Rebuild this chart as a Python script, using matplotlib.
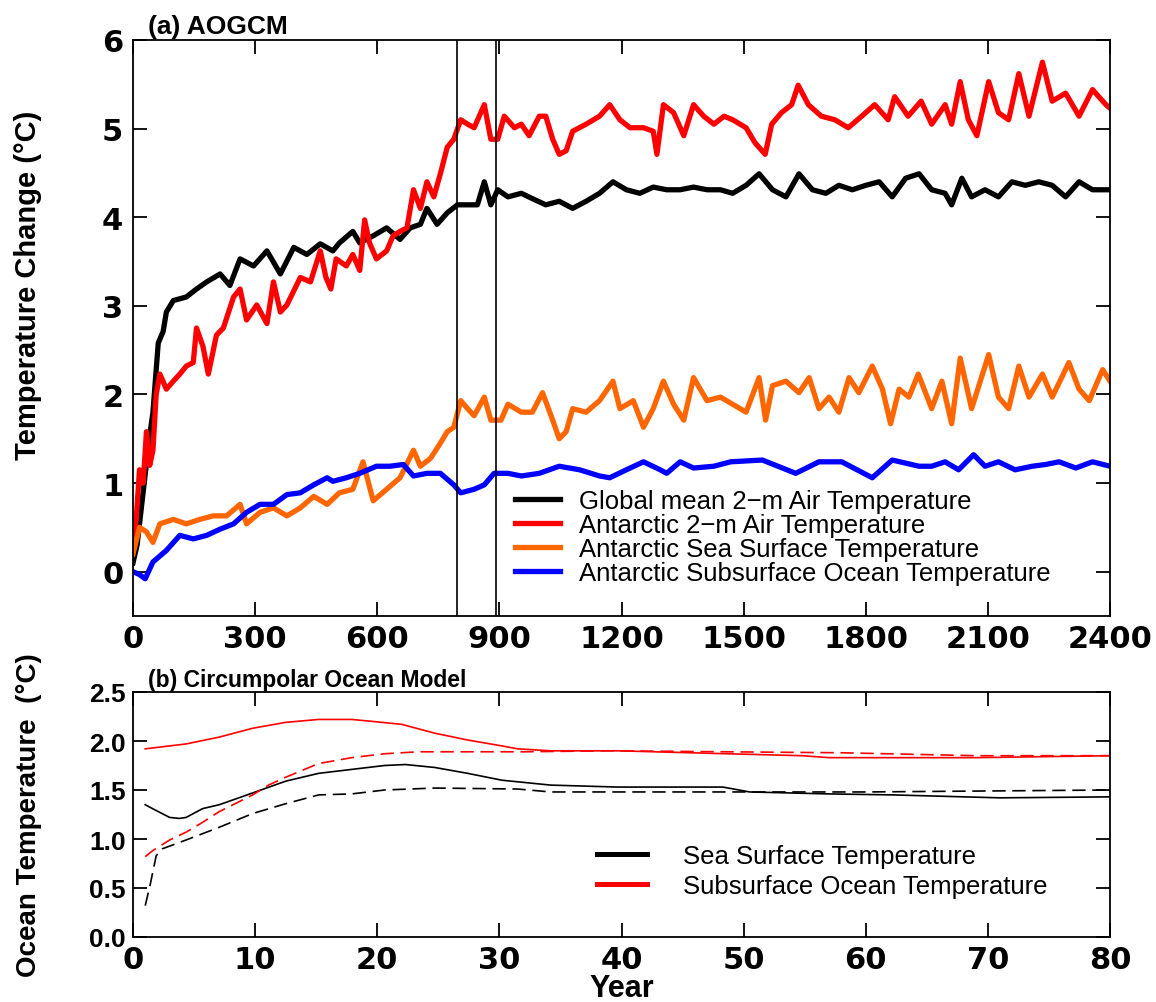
import numpy as np
import matplotlib
matplotlib.use('Agg')
import matplotlib.pyplot as plt
from matplotlib.ticker import FormatStrFormatter

plt.rcParams['font.family'] = ['Liberation Sans', 'DejaVu Sans']

# ---- (a) AOGCM, values (years, deg C) ----
yr_global = [0, 10, 25, 40, 49, 62, 74, 82, 99, 131, 156, 181, 214, 238, 263, 296, 329, 362, 395, 427,
             460, 491, 507, 540, 557, 590, 623, 656, 681, 706, 722, 747, 772, 797, 822, 846, 863, 879, 896, 921,
             954, 981, 1014, 1047, 1080, 1113, 1146, 1179, 1212, 1245, 1278, 1311, 1344, 1377, 1410, 1443, 1473,
             1506, 1538, 1571, 1604, 1636, 1669, 1702, 1734, 1767, 1800, 1833, 1865, 1898, 1931, 1962, 1995,
             2011, 2036, 2060, 2093, 2126, 2159, 2192, 2225, 2258, 2291, 2324, 2357, 2400]
t_global = [0.1, 0.3, 0.9, 1.5, 1.8, 2.58, 2.71, 2.93, 3.06, 3.1, 3.19, 3.27, 3.36, 3.23, 3.53, 3.45, 3.62, 3.36,
            3.66, 3.58, 3.7, 3.62, 3.71, 3.84, 3.71, 3.79, 3.88, 3.75, 3.88, 3.92, 4.1, 3.92, 4.05, 4.14, 4.14,
            4.14, 4.4, 4.14, 4.31, 4.23, 4.27, 4.21, 4.14, 4.18, 4.1, 4.18, 4.27, 4.4, 4.31, 4.27, 4.34, 4.31,
            4.31, 4.34, 4.31, 4.31, 4.27, 4.36, 4.49, 4.31, 4.23, 4.49, 4.31, 4.27, 4.36, 4.31, 4.36, 4.4, 4.23,
            4.44, 4.49, 4.31, 4.27, 4.14, 4.44, 4.23, 4.31, 4.23, 4.4, 4.36, 4.4, 4.36, 4.23, 4.4, 4.31, 4.31]

yr_ant_air = [0, 8, 16, 25, 33, 41, 49, 57, 66, 82, 99, 115, 131, 148, 156, 172, 185, 205, 222, 247, 263, 279,
              304, 329, 345, 362, 378, 411, 436, 460, 474, 486, 499, 524, 540, 557, 569, 581, 598, 623, 639, 656,
              673, 689, 706, 722, 739, 755, 772, 788, 805, 822, 838, 863, 879, 896, 912, 937, 954, 973, 998, 1014,
              1031, 1047, 1064, 1080, 1113, 1146, 1171, 1196, 1221, 1254, 1278, 1287, 1303, 1328, 1353, 1377,
              1402, 1427, 1452, 1473, 1506, 1528, 1553, 1569, 1593, 1618, 1634, 1659, 1691, 1724, 1757, 1790,
              1822, 1855, 1871, 1904, 1936, 1962, 1995, 2011, 2032, 2052, 2073, 2102, 2126, 2151, 2176, 2201,
              2234, 2258, 2291, 2324, 2357, 2390, 2400]
t_ant_air = [0.3, 0.6, 1.15, 1.0, 1.58, 1.2, 1.37, 2.0, 2.23, 2.06, 2.15, 2.23, 2.32, 2.36, 2.75, 2.54, 2.23, 2.67,
             2.75, 3.1, 3.19, 2.84, 3.01, 2.8, 3.27, 2.93, 3.01, 3.32, 3.27, 3.62, 3.32, 3.19, 3.53, 3.45, 3.58,
             3.4, 3.97, 3.71, 3.53, 3.62, 3.79, 3.84, 3.88, 4.31, 4.1, 4.4, 4.23, 4.49, 4.79, 4.88, 5.1, 5.05,
             5.01, 5.27, 4.88, 4.88, 5.14, 5.01, 5.05, 4.92, 5.14, 5.14, 4.88, 4.71, 4.75, 4.97, 5.05, 5.14, 5.27,
             5.1, 5.01, 5.01, 4.97, 4.71, 5.27, 5.18, 4.92, 5.27, 5.14, 5.05, 5.14, 5.1, 5.01, 4.84, 4.71, 5.05,
             5.18, 5.27, 5.49, 5.27, 5.14, 5.1, 5.01, 5.14, 5.27, 5.1, 5.36, 5.14, 5.31, 5.05, 5.27, 5.05, 5.53,
             5.1, 4.92, 5.53, 5.18, 5.1, 5.62, 5.14, 5.75, 5.31, 5.4, 5.14, 5.44, 5.27, 5.23]

yr_ant_sst = [0, 8, 16, 33, 49, 66, 99, 131, 164, 197, 230, 263, 279, 312, 345, 378, 411, 444, 477, 507, 540,
              565, 590, 623, 656, 689, 706, 731, 755, 772, 788, 805, 822, 838, 863, 879, 904, 921, 954, 981,
              1006, 1031, 1047, 1064, 1080, 1113, 1146, 1179, 1196, 1229, 1254, 1278, 1303, 1328, 1353, 1377,
              1410, 1443, 1473, 1506, 1538, 1554, 1571, 1604, 1636, 1661, 1685, 1710, 1734, 1759, 1783, 1816,
              1841, 1861, 1882, 1906, 1929, 1962, 1987, 2011, 2032, 2060, 2102, 2126, 2151, 2176, 2201, 2234,
              2258, 2299, 2324, 2349, 2382, 2400]
t_ant_sst = [0.2, 0.35, 0.5, 0.45, 0.33, 0.54, 0.59, 0.54, 0.59, 0.63, 0.63, 0.76, 0.54, 0.67, 0.72, 0.63, 0.72,
             0.85, 0.76, 0.89, 0.93, 1.24, 0.8, 0.93, 1.06, 1.37, 1.19, 1.28, 1.45, 1.58, 1.63, 1.93, 1.84, 1.76,
             1.97, 1.71, 1.71, 1.89, 1.8, 1.8, 2.02, 1.71, 1.5, 1.58, 1.84, 1.8, 1.93, 2.15, 1.84, 1.93, 1.63,
             1.84, 2.15, 1.89, 1.71, 2.19, 1.93, 1.97, 1.89, 1.8, 2.19, 1.71, 2.1, 2.15, 2.02, 2.19, 1.84, 1.97,
             1.8, 2.19, 2.02, 2.32, 2.06, 1.67, 2.06, 1.97, 2.23, 1.84, 2.15, 1.67, 2.41, 1.84, 2.45, 1.97, 1.84,
             2.32, 1.97, 2.23, 1.97, 2.36, 2.06, 1.93, 2.28, 2.15]

yr_ant_sub = [0, 15, 30, 49, 82, 115, 148, 181, 214, 247, 279, 312, 345, 378, 411, 444, 477, 491, 524, 557, 598,
              631, 664, 689, 722, 755, 788, 805, 838, 863, 887, 921, 954, 998, 1047, 1097, 1146, 1171, 1212, 1254,
              1295, 1311, 1344, 1377, 1427, 1468, 1546, 1628, 1685, 1741, 1816, 1865, 1931, 1962, 1995, 2028,
              2065, 2093, 2126, 2167, 2209, 2242, 2275, 2316, 2357, 2400]
t_ant_sub = [0.0, -0.03, -0.08, 0.11, 0.24, 0.41, 0.37, 0.41, 0.48, 0.54, 0.67, 0.76, 0.76, 0.87, 0.89, 0.98,
             1.06, 1.02, 1.06, 1.11, 1.19, 1.19, 1.21, 1.08, 1.11, 1.11, 0.98, 0.89, 0.93, 0.98, 1.11, 1.11, 1.08,
             1.11, 1.19, 1.15, 1.08, 1.06, 1.15, 1.24, 1.15, 1.11, 1.24, 1.17, 1.19, 1.24, 1.26, 1.11, 1.24, 1.24,
             1.06, 1.26, 1.19, 1.19, 1.24, 1.15, 1.32, 1.19, 1.24, 1.15, 1.19, 1.21, 1.24, 1.17, 1.24, 1.19]

marker_years = [795, 892]

# ---- (b) Circumpolar ocean model ----
yr_sst_a = [1, 1.6, 3, 3.8, 4.35, 5.7, 7.07, 9.8, 12.5, 15.2, 17.9, 20.6, 22.3, 24.7, 27.4, 30.2, 34.2, 39.7,
            48.3, 50.5, 57, 62.2, 71, 80]
sst_a = [1.35, 1.31, 1.22, 1.21, 1.22, 1.31, 1.35, 1.47, 1.59, 1.67, 1.71, 1.75, 1.76, 1.73, 1.67, 1.60, 1.55,
         1.53, 1.53, 1.48, 1.46, 1.45, 1.42, 1.43]
yr_sst_b = [1, 1.4, 1.9, 2.4, 4.35, 7.07, 9.8, 12.5, 15.2, 17.9, 20.6, 24.7, 31.5, 34.2, 40, 50, 60, 70, 80]
sst_b = [0.32, 0.53, 0.83, 0.9, 0.99, 1.12, 1.26, 1.36, 1.45, 1.46, 1.5, 1.52, 1.51, 1.48, 1.48, 1.48, 1.48,
         1.49, 1.5]
yr_sub_a = [1, 4.35, 7.07, 9.8, 12.5, 15.2, 17.9, 19.6, 22, 24.7, 27.4, 30.2, 31.5, 34.2, 39.7, 48.6, 54.8, 57,
            69, 80]
sub_a = [1.92, 1.97, 2.04, 2.13, 2.19, 2.22, 2.22, 2.2, 2.17, 2.08, 2.01, 1.95, 1.92, 1.90, 1.90, 1.87, 1.85,
         1.83, 1.83, 1.85]
yr_sub_b = [1, 1.6, 3, 4.35, 5.7, 7.07, 9.8, 11.1, 12.5, 15.2, 17.9, 20.6, 23.4, 28.8, 32, 39, 58, 69, 80]
sub_b = [0.82, 0.88, 0.99, 1.07, 1.17, 1.28, 1.45, 1.55, 1.63, 1.77, 1.83, 1.87, 1.89, 1.89, 1.89, 1.90, 1.88,
         1.85, 1.85]

W, H = 1156, 1003
fig = plt.figure(figsize=(W / 100, H / 100), dpi=100)
ax1 = fig.add_axes([133 / W, 1 - 617 / H, 977 / W, 576 / H])
ax2 = fig.add_axes([133 / W, 1 - 938 / H, 977 / W, 245 / H])

lw = 3.8
ax1.plot(yr_global, t_global, color='black', lw=lw, label='Global mean 2\u2212m Air Temperature')
ax1.plot(yr_ant_air, t_ant_air, color='#ff0000', lw=lw, label='Antarctic 2\u2212m Air Temperature')
ax1.plot(yr_ant_sst, t_ant_sst, color='#ff6600', lw=lw, label='Antarctic Sea Surface Temperature')
ax1.plot(yr_ant_sub, t_ant_sub, color='#0000ff', lw=lw, label='Antarctic Subsurface Ocean Temperature')
for xv in marker_years:
    ax1.axvline(xv, color='black', lw=1.2)

ax1.set_xlim(0, 2400)
ax1.set_ylim(-0.5, 6)
ax1.set_xticks(np.arange(0, 2401, 300))
ax1.set_yticks(np.arange(0, 7, 1))
ax1.set_ylabel('Temperature Change (\u00b0C)', fontsize=21, fontweight='bold')
ax1.yaxis.set_label_coords(-0.093, 0.575)
ax1.text(0.015, 1.004, '(a) AOGCM', transform=ax1.transAxes, fontsize=19, fontweight='bold',
         va='bottom', ha='left')
ax1.legend(loc='upper left', bbox_to_anchor=(515 / W, 1 - 490 / H), bbox_transform=fig.transFigure,
           frameon=False, fontsize=18.5, handlelength=1.75, handletextpad=0.75, labelspacing=0.0,
           borderpad=0, borderaxespad=0)

lw2 = 1.2
ax2.plot(yr_sst_a, sst_a, color='black', lw=lw2, label='Sea Surface Temperature')
ax2.plot(yr_sst_b, sst_b, color='black', lw=lw2, ls=(0, (8, 4)))
ax2.plot(yr_sub_a, sub_a, color='#ff0000', lw=lw2, label='Subsurface Ocean Temperature')
ax2.plot(yr_sub_b, sub_b, color='#ff0000', lw=lw2, ls=(0, (8, 4)))

ax2.set_xlim(0, 80)
ax2.set_ylim(0, 2.5)
ax2.set_xticks(np.arange(0, 81, 10))
ax2.set_yticks(np.arange(0, 2.51, 0.5))
ax2.yaxis.set_major_formatter(FormatStrFormatter('%.1f'))
ax2.set_ylabel('Ocean Temperature  (\u00b0C)', fontsize=20, fontweight='bold')
ax2.yaxis.set_label_coords(-0.093, 0.5)
fig.text(622 / W, 1 - 989 / H, 'Year', fontsize=22, fontweight='bold', ha='center', va='center')
ax2.text(0.015, 1.004, '(b) Circumpolar Ocean Model', transform=ax2.transAxes, fontsize=16.5,
         fontweight='bold', va='bottom', ha='left')
leg2 = ax2.legend(loc='upper left', bbox_to_anchor=(597 / W, 1 - 845 / H), bbox_transform=fig.transFigure,
                  frameon=False, fontsize=18.5, handlelength=1.95, handletextpad=1.4, labelspacing=0.25,
                  borderpad=0, borderaxespad=0)
for h in leg2.get_lines():
    h.set_linewidth(3.6)

for ax in (ax1, ax2):
    ax.tick_params(direction='in', length=10, width=1.3, top=True, right=True)
    ax.tick_params(axis='x', pad=6)
    for sp in ax.spines.values():
        sp.set_linewidth(1.3)
    for lab in ax.get_xticklabels():
        lab.set_fontfamily('DejaVu Sans')
        lab.set_fontweight('bold')
        lab.set_fontsize(22)
ax1.tick_params(axis='y', pad=7)
ax2.tick_params(axis='y', pad=5)
for lab in ax1.get_yticklabels():
    lab.set_fontfamily('DejaVu Sans')
    lab.set_fontweight('bold')
    lab.set_fontsize(22)
for lab in ax2.get_yticklabels():
    lab.set_fontweight('bold')
    lab.set_fontsize(19)

fig.savefig('out.png', dpi=100)
